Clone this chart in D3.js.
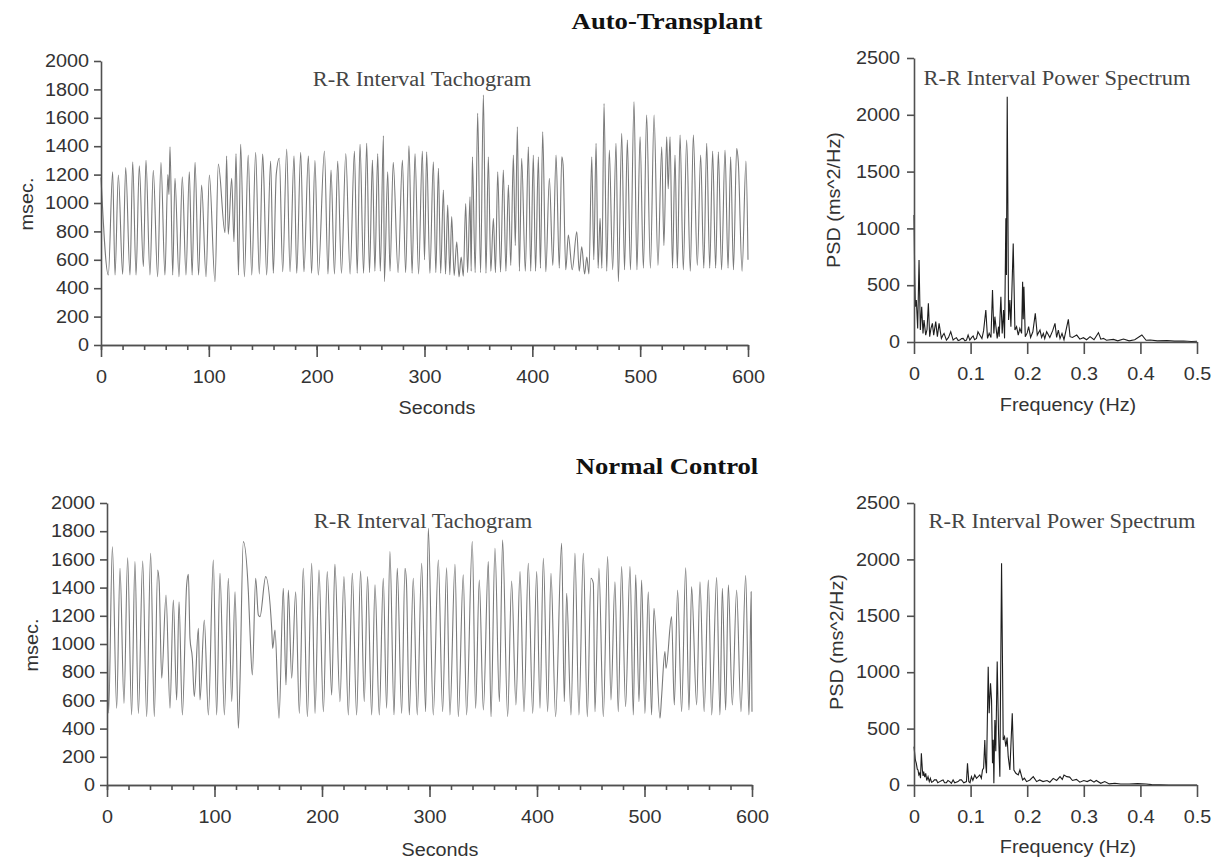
<!DOCTYPE html>
<html>
<head>
<meta charset="utf-8">
<script src="https://cdn.jsdelivr.net/npm/d3@7"></script>
<style>
  body { margin: 0; background: #fff; }
  .axis path, .axis line { stroke: #505050; stroke-width: 1.6; }
  .axis text { font-family: "Liberation Sans", Arial, sans-serif; font-size: 18px; fill: #333; }
  .atitle { font-family: "Liberation Sans", Arial, sans-serif; font-size: 18px; fill: #333; }
  .title { font-family: "Liberation Serif", "Times New Roman", serif; font-size: 23px; font-weight: bold; fill: #111; }
  .sub { font-family: "Liberation Serif", "Times New Roman", serif; font-size: 20px; fill: #444; }
</style>
</head>
<body>
<script>
// R-R tachograms: [seconds, msec] at the peaks / troughs
const autoTach = [[0,1180],[6.8,493],[10.8,1220],[13,493],[16.1,1197],[20.1,498],[22.9,1250],[26.9,493],[29.4,1290],[32.5,493],[35.5,1262],[39.3,552],[41.7,1300],[45.4,493],[48.5,1230],[52.5,481],[55.6,1286],[59.3,493],[62,1200],[63,1060],[64,1396],[66.5,493],[68.6,1174],[72.3,481],[75.4,1185],[78.8,493],[81.9,1220],[84.5,493],[87.2,1286],[90.5,493],[93.3,1127],[97.4,481],[100.5,1197],[105.7,446],[108.8,1274],[115,790],[116.5,1330],[118,780],[121.2,1174],[123.3,727],[125.2,1349],[127.5,493],[129.5,1413],[133,481],[136.5,1338],[139.8,493],[143.4,1357],[146.8,500],[149.9,1345],[151,1174],[153.6,493],[157.3,1295],[159.8,505],[162.5,1200],[165.4,1315],[168.5,516],[172.2,1380],[175.3,516],[179,1333],[181.5,505],[185.2,1357],[188.2,516],[192.3,1333],[195.3,505],[198.4,1300],[201.5,493],
  [207.2,1366],[210.5,500],[213.3,1232],[216.5,500],[219.5,1295],[223,505],[227,1349],[231,500],[235,1366],[237.6,505],[240.2,1413],[243.5,505],[246.4,1420],[249,510],[251.7,1302],[254,520],[256.6,1349],[259,520],[261.9,1474],[262.8,446],[265.9,1220],[268,520],[271,1286],[275.5,510],[279.5,1302],[282.5,510],[285.6,1403],[288.5,505],[291.2,1349],[294.5,500],[298,1366],[300,600],[302,1361],[305,505],[308.2,1291],[310.5,510],[312.9,1244],[315,505],[317.5,1091],[319.5,500],[321.5,986],[323.5,495],[325.2,904],[327.5,490],[329.9,727],[332,480],[334,620],[336,485],[338.2,997],[340,510],[342.2,1044],[343.3,520],[344.4,1326],[347,510],[349.3,1631],[352,510],[354.6,1760],[357,505],[359.2,1326],[361.5,520],[363.9,892],[365.8,510],[367.9,1220],[370.5,515],[373.1,1232],[375.5,520],[377.8,1126],[380,560],[382.4,1338],[384.2,700],[386.1,1537],[388,520],[390.1,1314],[393.5,520],[396.3,1396],[398.5,520],[400.9,1338],
  [403,520],[405.6,1326],[407.5,540],[409.6,1502],[412.5,516],[415.8,1174],[419,560],[422,1338],[425,540],[427.3,1326],[428.5,1270],[431,530],[433.4,774],[437,530],[441.2,798],[443.5,520],[445.8,692],[448.5,500],[450.5,620],[452.5,500],[455.1,1326],[457,600],[459.1,1420],[461,540],[462.8,892],[464.5,540],[466.5,1701],[469,520],[471.4,1373],[474.5,530],[477.6,1420],[479.8,446],[482.9,1490],[485.5,530],[488.1,1443],[491,530],[494.3,1713],[497,530],[499.9,1467],[503,540],[506,1619],[509.5,540],[512.9,1619],[516.5,560],[520,1396],[522,700],[524.6,1467],[526,1100],[527.7,1467],[530,540],[532.3,1338],[534.5,540],[537,1479],[540,530],[543.1,1443],[546.5,520],[549.3,1479],[553,560],[556.1,1338],[559,540],[561.7,1420],[564.5,540],[567.2,1366],[570,540],[572.5,1361],[575.5,530],[578.7,1373],[581.5,540],[583.9,1326],[586.5,530],[589.5,1385],[591,1290],[594.5,520],[598.1,1295],[600,600]];

const ctrlTach = [[0,1400],[1.5,510],[5,1690],[9,544],[12.1,1537],[15.8,579],[19.2,1612],[22.9,497],[26,1584],[29.2,508],[33.2,1589],[36.9,485],[40.6,1643],[44,485],[47.1,1525],[48.5,1440],[50.9,757],[54.9,1348],[58.6,544],[61.7,1312],[64.8,603],[67,1300],[70.1,497],[74.1,1419],[75.7,1494],[77.2,1040],[79.4,899],[81.2,627],[85,1111],[86.5,603],[90.5,1170],[94.3,497],[98.9,1596],[102,497],[105.1,1501],[109.2,497],[112.9,1466],[116,591],[119.1,1371],[122.2,402],[123.7,733],[126.8,1726],[131.5,1371],[133,1088],[135.2,780],[138.3,1466],[140.8,1206],[142.3,1194],[147.6,1478],[153.2,1111],[154.1,969],[156.3,1099],[160,473],[164,1395],[166.5,709],[168.7,1383],[171.8,757],[175.5,1371],[178.9,508],[182.6,1537],[186.4,485],[190.4,1572],[193.5,508],[197.2,1525],[201.3,520],
  [204.9,1513],[209,638],[212,1565],[216.7,591],[220.4,1478],[224.5,497],[228.2,1501],[232.2,497],[235.9,1518],[239.3,591],[242.4,1478],[246.2,497],[249.3,1419],[253.3,497],[257,1466],[260.1,544],[263.2,1655],[267,497],[270,1537],[274.1,508],[277.2,1537],[278.5,1450],[281.2,497],[284.9,1466],[288.6,497],[292.7,1572],[296.4,520],[298.9,1820],[303.5,497],[308.2,1596],[312.2,520],[315.9,1541],[319,497],[323.7,1565],[326.8,485],[331.4,1490],[334.5,497],[339.8,1726],[342.9,544],[346.3,1454],[350.1,532],[354.7,1584],[357.2,485],[360.9,1679],[365,591],[368,1738],[372.7,485],[376.4,1447],[380.4,568],[384.2,1513],[387.9,520],[391.9,1572],[396,508],[399.7,1513],
  [402.8,544],[405.9,1608],[409.9,520],[413,1501],[417.3,485],[422.9,1714],[425.4,591],[427.6,1359],[431.6,497],[435.3,1643],[439,497],[443.1,1643],[446.8,485],[450.2,1466],[452.4,1430],[453.9,520],[457.6,1537],[461.7,485],[465.7,1620],[468.8,603],[472.5,1442],[475.6,520],[478.7,1549],[482.4,556],[486.5,1549],[489.6,497],[491.8,1490],[494.9,591],[497.3,1454],[500.4,508],[503.5,1371],[506.6,497],[508.8,1253],[514.4,473],[515.9,627],[519,946],[520,828],[525.2,1194],[527.7,568],[530.8,1383],[534.5,520],[538.3,1541],[541.4,532],[543.8,1407],[548.5,568],[551.6,1442],[555.5,520],[559.4,1454],[562.5,497],[567.1,1471],[570.2,497],[572.4,1395],[575.5,532],[578,1419],[581.7,568],[585.7,1383],[589.7,520],[594.1,1485],[597.2,497],[599.2,1371],[600,520]];

// power spectra: [Hz, ms^2/Hz]
const autoPsd = [[0,1118],[0.0012,600],[0.0024,311],[0.0041,370],[0.0065,120],[0.0089,722],[0.0112,105],[0.0136,311],[0.0159,76],[0.0177,193],[0.0207,61],[0.023,110],[0.0254,340],[0.0277,47],[0.03,120],[0.0325,164],[0.0348,61],[0.0384,179],[0.0413,47],[0.0443,164],[0.0484,32],[0.051,60],[0.0531,76],[0.0573,17],[0.061,40],[0.0649,91],[0.0691,17],[0.072,30],[0.075,38],[0.078,12],[0.0809,17],[0.084,30],[0.0868,32],[0.09,10],[0.0927,17],[0.0956,62],[0.0986,17],[0.102,40],[0.1045,53],[0.107,20],[0.1104,32],[0.113,90],[0.1163,61],[0.12,30],[0.123,100],[0.1269,282],[0.1299,32],[0.1328,76],[0.136,40],[0.1387,458],[0.1411,76],[0.1429,223],[0.147,32],[0.1494,135],[0.1505,47],[0.1535,399],[0.1558,76],[0.1582,282],[0.16,32],[0.1623,1090],[0.1633,590],[0.1647,2159],[0.1671,193],[0.1694,370],[0.1712,135],[0.1753,868],[0.1783,105],[0.1812,135],[0.1842,61],[0.187,120],[0.1901,76],[0.1919,531],[0.193,200],[0.1942,487],[0.1966,47],[0.2,80],[0.2025,135],[0.206,40],[0.21,90],[0.2143,252],[0.2178,61],[0.2226,105],[0.2255,40],[0.2285,76],[0.231,30],[0.2344,91],[0.24,40],[0.245,100],[0.2491,164],[0.252,40],[0.255,105],[0.258,30],[0.2615,76],[0.265,20],[0.2727,199],[0.2757,47],[0.28,40],[0.2875,61],[0.293,25],[0.2993,38],[0.305,20],[0.3111,47],[0.318,20],[0.3259,82],[0.33,25],[0.3347,32],[0.34,15],[0.3524,23],[0.36,10],[0.3701,26],[0.38,10],[0.39,20],[0.4026,62],[0.41,15],[0.4174,17],[0.43,10],[0.4469,12],[0.46,8],[0.4764,9],[0.49,5],[0.5,6]];

const ctrlPsd = [[0,340],[0.0024,222],[0.0041,192],[0.0058,140],[0.0071,133],[0.0085,90],[0.01,104],[0.0115,60],[0.013,281],[0.0148,133],[0.016,80],[0.0171,118],[0.019,70],[0.0207,104],[0.0225,40],[0.0248,74],[0.027,30],[0.0289,59],[0.031,25],[0.0336,30],[0.036,45],[0.0396,45],[0.042,20],[0.0455,30],[0.049,40],[0.0514,45],[0.054,20],[0.0573,21],[0.06,40],[0.0632,30],[0.066,15],[0.0691,45],[0.072,20],[0.0779,30],[0.081,45],[0.0838,45],[0.088,20],[0.0927,30],[0.0945,192],[0.0968,30],[0.099,20],[0.1015,74],[0.104,40],[0.1074,89],[0.1104,59],[0.1163,89],[0.119,60],[0.121,133],[0.123,150],[0.1251,399],[0.1265,200],[0.1281,104],[0.1311,1049],[0.1328,636],[0.1352,901],[0.137,754],[0.1387,192],[0.14,400],[0.1411,15],[0.1429,576],[0.1445,300],[0.147,1094],[0.1494,458],[0.1517,74],[0.1547,1965],[0.1576,399],[0.16,429],[0.1623,340],[0.1645,420],[0.1665,251],[0.1694,133],[0.1736,636],[0.1765,133],[0.18,104],[0.1842,89],[0.1871,133],[0.1919,45],[0.195,60],[0.1989,30],[0.2048,45],[0.2107,74],[0.2166,30],[0.222,45],[0.228,30],[0.235,40],[0.24,25],[0.246,59],[0.252,40],[0.258,74],[0.262,50],[0.265,89],[0.27,74],[0.275,70],[0.28,40],[0.287,50],[0.293,25],[0.3,40],[0.306,30],[0.312,45],[0.318,25],[0.322,40],[0.33,15],[0.337,30],[0.345,10],[0.355,15],[0.365,9],[0.38,9],[0.395,12],[0.41,9],[0.42,3],[0.45,0],[0.5,0]];

const msecTicks = [0,200,400,600,800,1000,1200,1400,1600,1800,2000];
const secTicks = [0,100,200,300,400,500,600];
const secMinor = d3.range(0, 601, 20);
const psdTicks = [0,500,1000,1500,2000,2500];
const hzTicks = [0,0.1,0.2,0.3,0.4,0.5];

const svg = d3.select("body").append("svg").attr("width", 1219).attr("height", 861);

// the scanned figure is a bit wider than tall, stretch text to suit
function widen(sel, k) {
    sel.each(function() {
        let w = this.getComputedTextLength();
        d3.select(this).attr("textLength", w * k).attr("lengthAdjust", "spacingAndGlyphs");
    });
}

function drawPanel(o) {
    let x = d3.scaleLinear().domain(o.xDomain).range([o.left, o.right]);
    let y = d3.scaleLinear().domain(o.yDomain).range([o.bottom, o.top]);
    let g = svg.append("g");

    let line = d3.line()
        .x(d => x(d[0]))
        .y(d => y(d[1]))
        .curve(o.curve);
    g.append("path")
        .datum(o.data)
        .attr("d", line)
        .attr("fill", "none")
        .attr("stroke", o.color)
        .attr("stroke-width", o.width);

    if (o.minor) {
        g.append("g").attr("class", "axis")
            .attr("transform", "translate(0," + o.bottom + ")")
            .call(d3.axisBottom(x).tickValues(o.minor).tickSize(5).tickSizeOuter(0).tickFormat(""));
    }
    let xa = g.append("g").attr("class", "axis")
        .attr("transform", "translate(0," + o.bottom + ")")
        .call(d3.axisBottom(x).tickValues(o.xTicks).tickSize(12).tickSizeOuter(0).tickPadding(13).tickFormat(d => String(d)));
    let ya = g.append("g").attr("class", "axis")
        .attr("transform", "translate(" + o.left + ",0)")
        .call(d3.axisLeft(y).tickValues(o.yTicks).tickSize(7).tickSizeOuter(0).tickPadding(o.yPad).tickFormat(d => String(d)));
    widen(xa.selectAll("text"), 1.1);
    widen(ya.selectAll("text"), 1.1);

    let xt = g.append("text").attr("class", "atitle")
        .attr("x", o.xLabelX).attr("y", o.bottom + o.xLabelDy)
        .attr("text-anchor", "middle").text(o.xLabel);
    let yt = g.append("text").attr("class", "atitle")
        .attr("transform", "translate(" + o.yLabelX + "," + o.yLabelY + ") rotate(-90)")
        .attr("text-anchor", "middle").text(o.yLabel);
    let st = g.append("text").attr("class", "sub")
        .attr("x", o.subX).attr("y", o.subY)
        .attr("text-anchor", "middle").text(o.sub);
    widen(xt, 1.1);
    widen(yt, 1.1);
    widen(st, 1.12);
}

const tachStyle = { xDomain: [0, 600], yDomain: [0, 2000], xTicks: secTicks, minor: secMinor, yTicks: msecTicks,
    yPad: 5, curve: d3.curveMonotoneX, color: "#7a7a7a", width: 1.1, xLabel: "Seconds", yLabel: "msec.",
    sub: "R-R Interval Tachogram" };
const specStyle = { xDomain: [0, 0.5], yDomain: [0, 2500], xTicks: hzTicks, minor: null, yTicks: psdTicks,
    yPad: 7, curve: d3.curveLinear, color: "#1e1e1e", width: 1.1, xLabel: "Frequency (Hz)", yLabel: "PSD (ms^2/Hz)",
    sub: "R-R Interval Power Spectrum" };

drawPanel(Object.assign({}, tachStyle, { data: autoTach, left: 101, right: 748, top: 61, bottom: 345,
    xLabelX: 437, xLabelDy: 69, yLabelX: 33, yLabelY: 204, subX: 422, subY: 86 }));
drawPanel(Object.assign({}, specStyle, { data: autoPsd, left: 914, right: 1197, top: 58, bottom: 342,
    xLabelX: 1068, xLabelDy: 69, yLabelX: 840, yLabelY: 200, subX: 1057, subY: 85 }));
drawPanel(Object.assign({}, tachStyle, { data: ctrlTach, left: 107, right: 752, top: 503, bottom: 785,
    xLabelX: 440, xLabelDy: 71, yLabelX: 38, yLabelY: 645, subX: 423, subY: 528 }));
drawPanel(Object.assign({}, specStyle, { data: ctrlPsd, left: 914, right: 1197, top: 503, bottom: 785,
    xLabelX: 1068, xLabelDy: 68, yLabelX: 843, yLabelY: 642, subX: 1062, subY: 528 }));

let t1 = svg.append("text").attr("class", "title").attr("x", 667).attr("y", 29)
    .attr("text-anchor", "middle").text("Auto-Transplant");
let t2 = svg.append("text").attr("class", "title").attr("x", 667).attr("y", 474)
    .attr("text-anchor", "middle").text("Normal Control");
widen(t1, 1.16);
widen(t2, 1.16);
</script>
</body>
</html>
